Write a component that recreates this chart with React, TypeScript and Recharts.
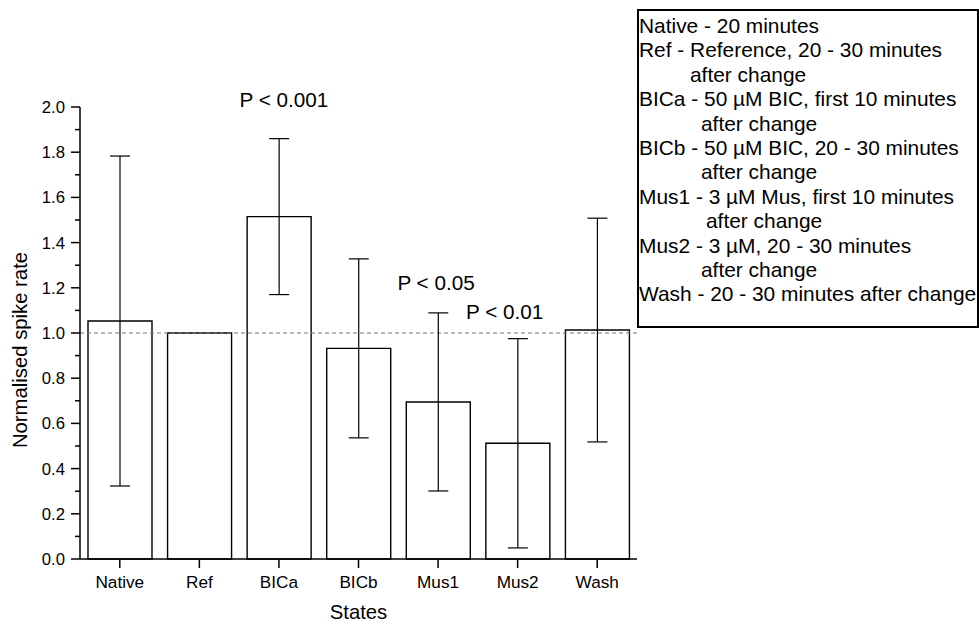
import React from "react";
import { Bar, BarChart, ErrorBar, Label, Legend, ReferenceDot, ReferenceLine, XAxis, YAxis } from "recharts";

const states = ["Native", "Ref", "BICa", "BICb", "Mus1", "Mus2", "Wash"];
const spikeRate = [1.053, 1.0, 1.515, 0.932, 0.695, 0.512, 1.013];
const spikeErr = [0.73, 0, 0.345, 0.396, 0.394, 0.463, 0.495];

const yTicks = [0, 0.1, 0.2, 0.3, 0.4, 0.5, 0.6, 0.7, 0.8, 0.9, 1.0, 1.1, 1.2, 1.3, 1.4, 1.5, 1.6, 1.7, 1.8, 1.9, 2.0];

const pStates = ["BICa", "Mus1", "Mus2"];
const pLevels = [2.0, 1.19, 1.062];
const pTexts = ["P < 0.001", "P < 0.05", "P < 0.01"];

const legendHeads = [
	"Native - 20 minutes",
	"Ref - Reference, 20 - 30 minutes",
	"BICa - 50 \u00B5M BIC, first 10 minutes",
	"BICb - 50 \u00B5M BIC, 20 - 30 minutes",
	"Mus1 - 3 \u00B5M Mus, first 10 minutes",
	"Mus2 - 3 \u00B5M, 20 - 30 minutes",
	"Wash - 20 - 30 minutes after change",
];
const legendTails = ["", "after change", "after change", "after change", "after change", "after change", ""];

// layout only
const pDx = [5, -2, -13];
const tailIndent = [0, 51, 62, 62, 67, 62, 0];

const data = states.map((s, i) => ({ state: s, rate: spikeRate[i], err: spikeErr[i] }));

const FONT = "'Liberation Sans', Arial, Helvetica, sans-serif";

const YTick = (props: any) => {
	const { x, y, payload } = props;
	const major = Math.round(payload.value * 10) % 2 === 0;
	const axisX = x + 15;
	return (
		<g>
			<line x1={axisX - (major ? 9 : 5)} x2={axisX} y1={y} y2={y} stroke="#000" strokeWidth={1.5} />
			{major && (
				<text x={x} y={y} dy="0.355em" textAnchor="end" fontSize={16.7} fill="#000">
					{payload.value.toFixed(1)}
				</text>
			)}
		</g>
	);
};

const LegendBox = () => (
	<div
		style={{
			boxSizing: "border-box",
			width: 342,
			height: 319,
			border: "2px solid #000",
			paddingTop: 3,
			fontFamily: FONT,
			fontSize: 20.9,
			lineHeight: "24.4px",
			color: "#000",
			whiteSpace: "nowrap",
			background: "#fff",
		}}
	>
		{legendHeads.map((h, i) => (
			<React.Fragment key={h}>
				<div>{h}</div>
				{legendTails[i] && <div style={{ paddingLeft: tailIndent[i] }}>{legendTails[i]}</div>}
			</React.Fragment>
		))}
	</div>
);

export default function App() {
	return (
		<div style={{ position: "absolute", left: 0, top: 0, width: 979, height: 624, background: "#fff", fontFamily: FONT }}>
			<BarChart width={979} height={624} data={data} margin={{ top: 107, right: 342, bottom: 0, left: 0 }}>
				<XAxis
					dataKey="state"
					height={65}
					tickSize={9}
					tickMargin={8}
					axisLine={{ stroke: "#000", strokeWidth: 1.5 }}
					tickLine={{ stroke: "#000", strokeWidth: 1.5 }}
					tick={{ fontSize: 17.2, fill: "#000" }}
					interval={0}
				>
					<Label value="States" position="insideBottom" offset={5} fontSize={20.3} fill="#000" />
				</XAxis>
				<YAxis
					width={80}
					domain={[0, 2]}
					ticks={yTicks}
					interval={0}
					tickSize={9}
					tickMargin={6}
					tickLine={false}
					axisLine={{ stroke: "#000", strokeWidth: 1.5 }}
					tick={<YTick />}
				>
					<Label
						content={(p: any) => {
							const vb = p.viewBox;
							const cx = vb.x + 20;
							const cy = vb.y + vb.height / 2 + 17;
							return (
								<text x={cx} y={cy} dy="0.355em" textAnchor="middle" fontSize={20.3} fill="#000" transform={`rotate(-90, ${cx}, ${cy})`}>
									Normalised spike rate
								</text>
							);
						}}
					/>
				</YAxis>
				<ReferenceLine y={1} stroke="#777" strokeWidth={1.2} strokeDasharray="4 3" />
				<Bar dataKey="rate" barSize={64} fill="#fff" stroke="#000" strokeWidth={1.4} isAnimationActive={false}>
					<ErrorBar dataKey="err" width={10} stroke="#000" strokeWidth={1.2} isAnimationActive={false} />
				</Bar>
				{pStates.map((s, i) => (
					<ReferenceDot
						key={s}
						x={s}
						y={pLevels[i]}
						r={0}
						fill="none"
						stroke="none"
						label={{
							content: (p: any) => {
								const vb = p.viewBox;
								return (
									<text x={vb.x + vb.width / 2 + pDx[i]} y={vb.y} textAnchor="middle" fontSize={20.7} fill="#000">
										{pTexts[i]}
									</text>
								);
							},
						}}
					/>
				))}
				<Legend
					layout="vertical"
					align="center"
					verticalAlign="middle"
					wrapperStyle={{ left: 637, top: 9, width: 342, height: 319 }}
					content={() => <LegendBox />}
				/>
			</BarChart>
		</div>
	);
}
